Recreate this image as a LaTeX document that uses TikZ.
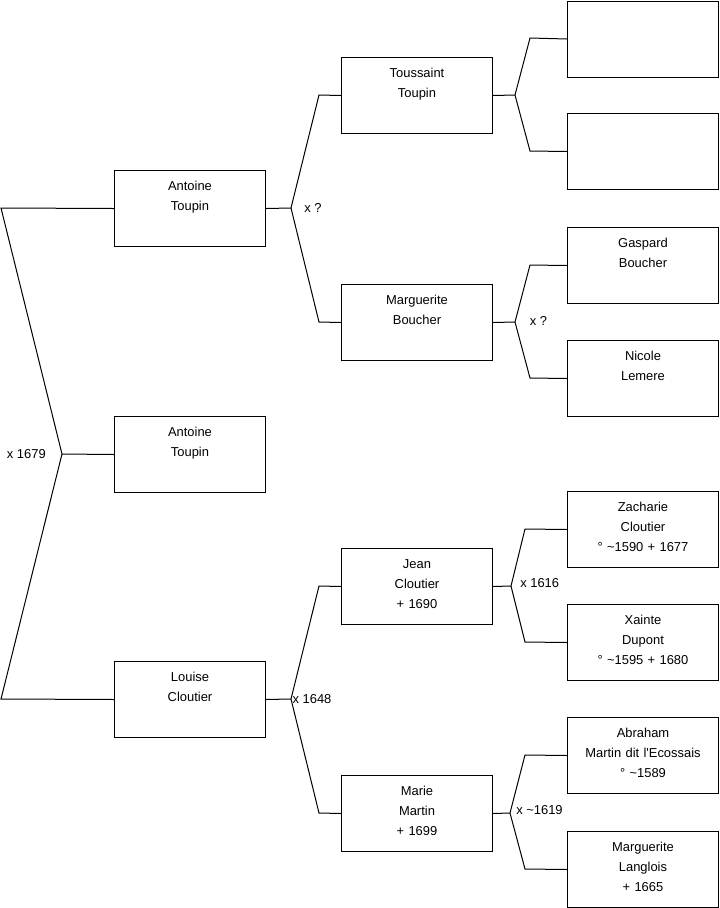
\documentclass[tikz,border=0pt]{standalone}
\usepackage{fontspec}
\setmainfont{Liberation Sans}[Ligatures=TeXOff]
\usetikzlibrary{positioning}

\begin{document}
\begin{tikzpicture}[
  x=0.75pt, y=-0.75pt,
  person/.style={rectangle, draw, line width=0.75pt, anchor=north west, inner sep=0pt,
                 text width=113.25pt, align=center, text height=15.2pt, text depth=41.8pt,
                 font=\fontsize{9.7pt}{15pt}\selectfont},
  union/.style={inner sep=0pt, font=\fontsize{9.7pt}{11pt}\selectfont},
  link/.style={line width=0.75pt}
]
\useasboundingbox (0,0) rectangle (719,908);

% generation 1
\node[person] (antoinePere) at (114,170) {Antoine\\Toupin};
\node[person] (antoine)     at (114,416) {Antoine\\Toupin};
\node[person] (louise)      at (114,661) {Louise\\Cloutier};

% generation 2
\node[person] (toussaint) at (341,57)  {Toussaint\\Toupin};
\node[person] (boucher)   at (341,284) {Marguerite\\Boucher};
\node[person] (jean)      at (341,548) {Jean\\Cloutier\\+ 1690};
\node[person] (marie)     at (341,775) {Marie\\Martin\\+ 1699};

% generation 3
\node[person] (inconnuA) at (567,0.5) {};
\node[person] (inconnuB) at (567,113) {};
\node[person] (gaspard)  at (567,227) {Gaspard\\Boucher};
\node[person] (nicole)   at (567,340) {Nicole\\Lemere};
\node[person] (zacharie) at (567,491) {Zacharie\\Cloutier\\° \textasciitilde1590 + 1677};
\node[person] (xainte)   at (567,604) {Xainte\\Dupont\\° \textasciitilde1595 + 1680};
\node[person] (abraham)  at (567,717) {Abraham\\Martin dit l'Ecossais\\° \textasciitilde1589};
\node[person] (langlois) at (567,831) {Marguerite\\Langlois\\+ 1665};

% unions
\coordinate (xroot)      at (62,454);
\coordinate (xtoupin)    at (291,208);
\coordinate (xtoussaint) at (515,95);
\coordinate (xboucher)   at (515,322);
\coordinate (xcloutier)  at (291,699);
\coordinate (xjean)      at (511,586);
\coordinate (xmartin)    at (510,813);

\node[union, left=12pt of xroot]                 (mroot)    {x 1679};
\node[union, right=9.75pt of xtoupin]            (mtoupin)  {x ?};
\node[union, right=11pt of xboucher, yshift=1pt] (mboucher) {x ?};
\node[union, right=1pt of xcloutier]             (mcloutier) {x 1648};
\node[union, right=6.75pt of xjean, yshift=2pt]  (mjean)    {x 1616};
\node[union, right=4.5pt of xmartin, yshift=2pt] (mmartin)  {x \textasciitilde1619};

\draw[link] (antoinePere.west) -- (1,208) -- (xroot) -- (1,699) -- (louise.west);
\draw[link] (xroot) -- (antoine.west);

\draw[link] (antoinePere.east) -- (xtoupin);
\draw[link] (toussaint.west) -- (319,95) -- (xtoupin) -- (319,322) -- (boucher.west);

\draw[link] (toussaint.east) -- (xtoussaint);
\draw[link] (inconnuA.west) -- (530,38) -- (xtoussaint) -- (530,151) -- (inconnuB.west);

\draw[link] (boucher.east) -- (xboucher);
\draw[link] (gaspard.west) -- (530,265) -- (xboucher) -- (530,378) -- (nicole.west);

\draw[link] (louise.east) -- (xcloutier);
\draw[link] (jean.west) -- (319,586) -- (xcloutier) -- (319,813) -- (marie.west);

\draw[link] (jean.east) -- (xjean);
\draw[link] (zacharie.west) -- (525,529) -- (xjean) -- (525,642) -- (xainte.west);

\draw[link] (marie.east) -- (xmartin);
\draw[link] (abraham.west) -- (525,755) -- (xmartin) -- (525,869) -- (langlois.west);

\end{tikzpicture}
\end{document}
